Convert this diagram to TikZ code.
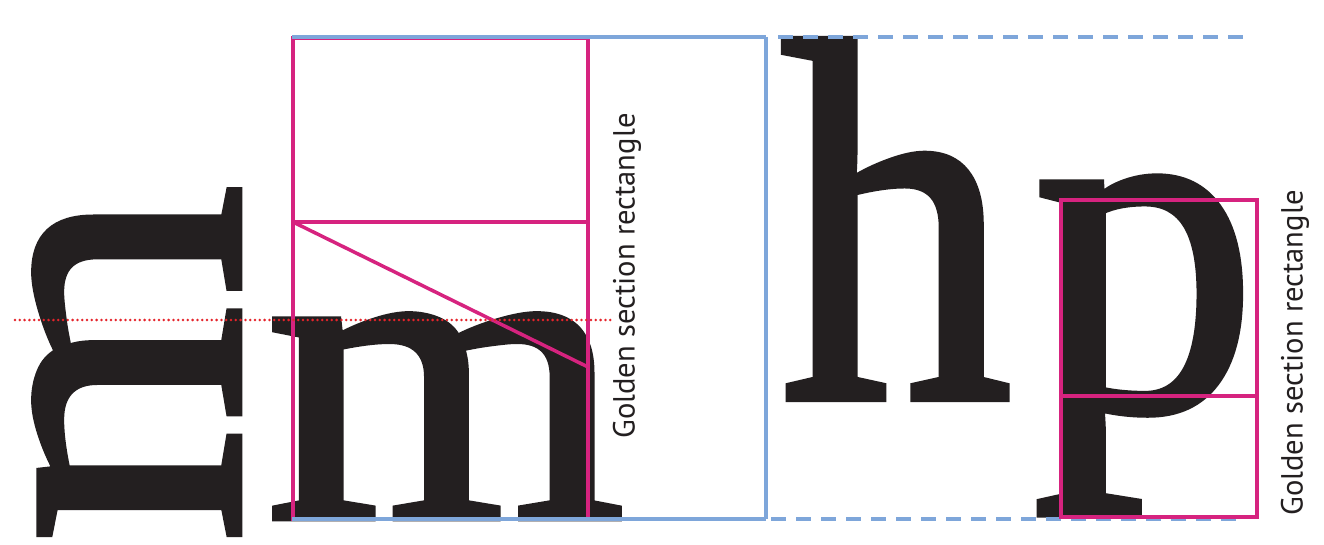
\documentclass[tikz,border=0pt]{standalone}
\usepackage{fontspec}
\setmainfont{Liberation Serif}
\newfontfamily\glyphfont[FakeBold=1.6]{Liberation Serif}
\newfontfamily\labelfont{PT Sans}
\definecolor{guideblue}{HTML}{7EA6DA}
\definecolor{goldmag}{HTML}{D6237F}
\definecolor{dotred}{HTML}{E5242B}
\definecolor{inkblack}{HTML}{231F20}
\tikzset{
  glyph/.style={inner sep=0pt, outer sep=0pt, font=\glyphfont, text=inkblack},
  blueline/.style={draw=guideblue, line width=3.5pt},
  bluedash/.style={draw=guideblue, line width=3.5pt, dash pattern=on 15pt off 10pt},
  goldline/.style={draw=goldmag, line width=3.5pt},
  dotline/.style={draw=dotred, line width=2.8pt, line cap=round, dash pattern=on 0pt off 4.8pt},
  label/.style={inner sep=0pt, font=\labelfont, text=inkblack, rotate=90}
}
\begin{document}
\begin{tikzpicture}[x=1pt, y=-1pt]
\useasboundingbox (0,0) rectangle (1324,545);
\fill[white] (0,0) rectangle (1324,545);

% letters
\node[glyph, rotate=90, anchor=base west] (mside) at (239,543) {\resizebox{358pt}{204pt}{m}};
\node[glyph, anchor=base west] (mup) at (266,518) {\resizebox{358pt}{203pt}{m}};
\node[glyph, anchor=base west] (h) at (780,398) {\resizebox{232pt}{358pt}{h}};
\node[glyph, anchor=base west] (p) at (1033,409) {\resizebox*{224pt}{335pt}{p}};

% guide coordinates
\coordinate (TL) at (292,37);
\coordinate (TR) at (766,37);
\coordinate (BL) at (292,519);
\coordinate (BR) at (766,519);
\coordinate (TDs) at (778,37);
\coordinate (TDe) at (1245,37);
\coordinate (BDs) at (771,519);
\coordinate (BDe) at (1245,519);

% golden section rectangle around m
\coordinate (G1) at (293,38);
\coordinate (G2) at (588,519);
\coordinate (GmL) at (293,222);
\coordinate (GmR) at (588,222);
\coordinate (GdR) at (588,367);
\draw[goldline] (G1) rectangle (G2);
\draw[goldline] (GmL) -- (GmR);
\draw[goldline] (GmL) -- (GdR);

% blue guides
\draw[blueline] (TL) -- (TR);
\draw[blueline] (BL) -- (BR);
\draw[blueline] (TR) -- (BR);
\draw[bluedash] (TDs) -- (TDe);
\draw[bluedash] (BDs) -- (BDe);

% golden section rectangle around p
\coordinate (P1) at (1061,200);
\coordinate (P2) at (1257,517);
\coordinate (PmL) at (1061,396);
\coordinate (PmR) at (1257,396);
\draw[goldline] (P1) rectangle (P2);
\draw[goldline] (PmL) -- (PmR);

% x-height dotted line
\coordinate (D1) at (15,320);
\coordinate (D2) at (613,320);
\draw[dotline] (D1) -- (D2);

% labels
\node[label] (lab1) at (627,276) {\resizebox{325pt}{!}{Golden section rectangle}};
\node[label] (lab2) at (1295,353) {\resizebox{325pt}{!}{Golden section rectangle}};
\end{tikzpicture}
\end{document}
